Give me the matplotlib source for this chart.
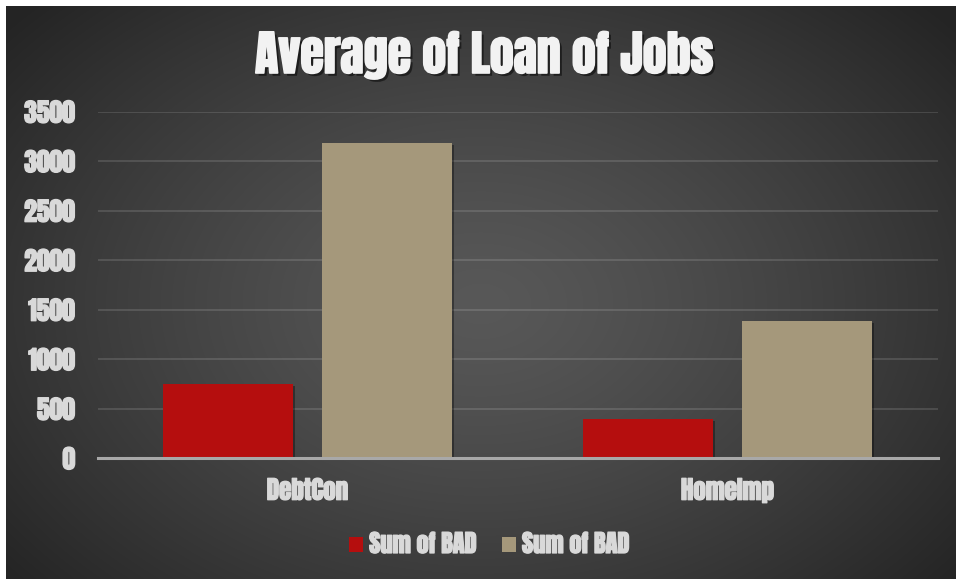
import numpy as np
import matplotlib
matplotlib.use("Agg")
import matplotlib.pyplot as plt
import matplotlib.patheffects as pe
from matplotlib.patches import Patch

# Chart data
categories = ["DebtCon", "HomeImp"]
series_names = ["Sum of BAD", "Sum of BAD"]
series_a = [750, 397]
series_b = [3184, 1386]
y_ticks = [0, 500, 1000, 1500, 2000, 2500, 3000, 3500]
title = "Average of Loan of Jobs"

colors = ["#b50e0e", "#a5987b"]
text_color = "#d9d9d9"
font = ["Anton", "DejaVu Sans"]
heavy = [pe.withStroke(linewidth=0.9, foreground=text_color)]

W, H, DPI = 956, 579, 100
fig = plt.figure(figsize=(W / DPI, H / DPI), dpi=DPI, facecolor="white")

# Radial dark-grey background panel (white strip on top/left edges)
bg = fig.add_axes([6 / W, 0, 1 - 6 / W, 1 - 6 / H])
bg.set_axis_off()
yy, xx = np.mgrid[0:1:400j, 0:1:600j]
r = np.sqrt(((xx - 0.5) / 0.62) ** 2 + ((yy - 0.52) / 0.72) ** 2)
shade = np.clip(0.345 - 0.19 * r ** 1.3, 0.145, 0.345)
img = np.dstack([shade, shade, shade])
bg.imshow(img, aspect="auto", extent=[0, 1, 0, 1], interpolation="bicubic")
bg.set_xlim(0, 1)
bg.set_ylim(0, 1)

ax = fig.add_axes([97.5 / W, 120.7 / H, (937.5 - 97.5) / W, (458.3 - 111.7) / H])
ax.patch.set_alpha(0)
x = np.arange(len(categories))
bw = 0.31
off = 0.19
shadow = [pe.SimplePatchShadow(offset=(1.5, -1.5), shadow_rgbFace="black", alpha=0.35), pe.Normal()]
b1 = ax.bar(x - off, series_a, bw, color=colors[0], zorder=3)
b2 = ax.bar(x + off, series_b, bw, color=colors[1], zorder=3)
for b in list(b1) + list(b2):
    b.set_path_effects(shadow)

ax.set_xlim(-0.5, 1.5)
ax.set_ylim(0, 3500)
ax.set_yticks(y_ticks)
ax.set_yticklabels([str(t) for t in y_ticks])
ax.set_xticks(x)
ax.set_xticklabels(categories)
ax.yaxis.grid(True, color="#ffffff", alpha=0.13, linewidth=1.4, zorder=0)
ax.set_axisbelow(True)
for s in ["top", "right", "left"]:
    ax.spines[s].set_visible(False)
ax.spines["bottom"].set_color("#a8a8a8")
ax.spines["bottom"].set_linewidth(2.2)
ax.spines["bottom"].set_zorder(4)
ax.tick_params(axis="both", length=0, colors=text_color)
ax.tick_params(axis="y", pad=16)
ax.tick_params(axis="x", pad=14)
for lab in ax.get_yticklabels():
    lab.set_fontfamily(font)
    lab.set_fontsize(18.5)
    lab.set_color(text_color)
    lab.set_path_effects(heavy)
for lab in ax.get_xticklabels():
    lab.set_fontfamily(font)
    lab.set_fontsize(18)
    lab.set_color(text_color)
    lab.set_path_effects(heavy)

fig.text(484 / W, 1 - 55 / H, title, ha="center", va="center", color="#f2f2f2",
         fontsize=34.5, family=font,
         path_effects=[pe.withSimplePatchShadow(offset=(2, -2), shadow_rgbFace="black", alpha=0.5),
                       pe.withStroke(linewidth=1.2, foreground="#f2f2f2")])

handles = [Patch(facecolor=colors[0]), Patch(facecolor=colors[1])]
leg = fig.legend(handles, series_names, loc="center", bbox_to_anchor=(489 / W, 1 - 544 / H),
                 ncol=2, frameon=False, handlelength=0.58, handleheight=0.58,
                 handletextpad=0.25, columnspacing=1.05,
                 prop={"family": font, "size": 17.5})
for t in leg.get_texts():
    t.set_color(text_color)
    t.set_path_effects(heavy)

fig.savefig("out.png", dpi=DPI, facecolor="white")
